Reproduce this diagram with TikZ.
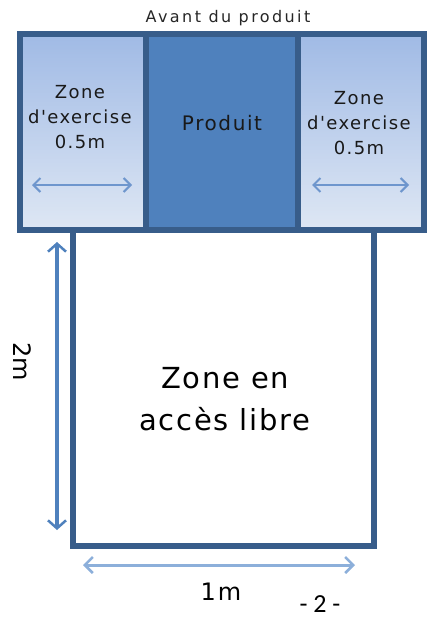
\documentclass[tikz,border=0pt]{standalone}
\usepackage{fontspec}
\setmainfont{DejaVu Sans}
\newfontfamily\widefont[LetterSpace=8]{DejaVu Sans}
\newfontfamily\titlefont[LetterSpace=15]{DejaVu Sans}
\newfontfamily\bigfont[LetterSpace=6]{DejaVu Sans}
\newfontfamily\calfont{Carlito}
\usetikzlibrary{arrows.meta}
\definecolor{bordercol}{RGB}{56,93,138}
\definecolor{midfill}{RGB}{79,129,189}
\definecolor{gradtop}{RGB}{160,186,229}
\definecolor{gradbot}{RGB}{222,231,244}
\definecolor{arrowdark}{RGB}{79,129,189}
\definecolor{arrowlight}{RGB}{140,175,218}
\definecolor{arrowsmall}{RGB}{110,150,205}
\tikzset{
  panelbox/.style={draw=bordercol, line width=6pt, minimum height=196pt, inner sep=0pt, anchor=center},
  sidepanel/.style={panelbox, minimum width=126pt, top color=gradtop, bottom color=gradbot},
  midpanel/.style={panelbox, minimum width=152pt, fill=midfill},
  freebox/.style={draw=bordercol, line width=6pt, fill=white, minimum width=301pt, minimum height=316pt, inner sep=0pt},
  paneltext/.style={align=center, font=\widefont\fontsize{18}{25}\selectfont, text=black!90},
  dimarrow/.style={line width=4pt, draw=arrowdark, {Straight Barb[length=8pt,width=18pt,line width=2.5pt]}-{Straight Barb[length=8pt,width=18pt,line width=2.5pt]}},
  dimarrowlight/.style={line width=3pt, draw=arrowlight, {Straight Barb[length=8pt,width=16pt,line width=2.5pt]}-{Straight Barb[length=8pt,width=16pt,line width=2.5pt]}},
  smallarrow/.style={line width=2pt, draw=arrowsmall, {Straight Barb[length=7pt,width=14pt,line width=2pt]}-{Straight Barb[length=7pt,width=14pt,line width=2pt]}}
}
\begin{document}
\begin{tikzpicture}[x=1pt,y=-1pt]
\useasboundingbox (0,0) rectangle (432,618);
% lower free zone
\node[freebox] (free) at (223.5,388) {};
% top bar
\node[sidepanel] (left) at (82.5,132) {};
\node[midpanel] (mid) at (221.5,132) {};
\node[sidepanel] (right) at (360.5,132) {};
% title
\node[font=\titlefont\fontsize{16}{18}\selectfont, text=black!85] (title) at (228,18) {Avant du produit};
% panel texts
\node[paneltext] (ltext) at (80,117) {Zone\\d'exercise\\0.5m};
\node[paneltext] (rtext) at (359,123) {Zone\\d'exercise\\0.5m};
\node[font=\widefont\fontsize{20}{22}\selectfont, text=black!90] (ptext) at (222,123) {Produit};
% small arrows
\coordinate (la1) at (32,185);
\coordinate (la2) at (132,185);
\coordinate (ra1) at (312,185);
\coordinate (ra2) at (409,185);
\draw[smallarrow] (la1) -- (la2);
\draw[smallarrow] (ra1) -- (ra2);
% free zone text
\node[align=center, font=\bigfont\fontsize{29}{42}\selectfont] (ftext) at (225,399) {Zone en\\accès libre};
% dimension arrows
\coordinate (v1) at (57,242);
\coordinate (v2) at (57,530);
\coordinate (h1) at (83,565);
\coordinate (h2) at (355,565);
\draw[dimarrow] (v1) -- (v2);
\draw[dimarrowlight] (h1) -- (h2);
\node[rotate=-90, font=\fontsize{24}{26}\selectfont] (twom) at (22,362) {2m};
\node[font=\widefont\fontsize{24}{26}\selectfont] (onem) at (221,592) {1m};
\node[font=\calfont\fontsize{26}{28}\selectfont] (page) at (320,604) {- 2 -};
\end{tikzpicture}
\end{document}
